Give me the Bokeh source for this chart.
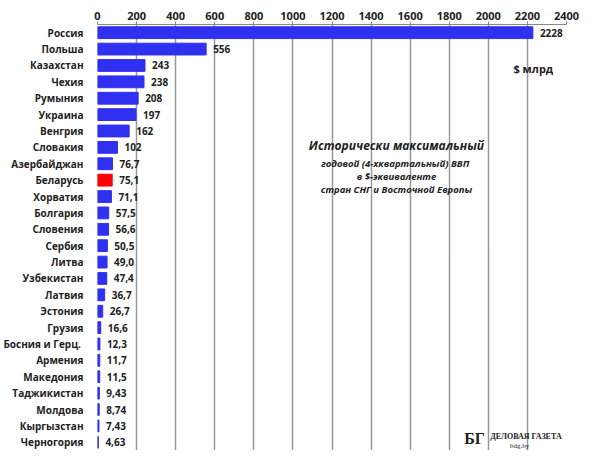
from bokeh.plotting import figure
from bokeh.models import ColumnDataSource, Label, FactorRange, FixedTicker
from bokeh.embed import file_html
from bokeh.resources import INLINE
from bokeh.core.properties import value

countries = ["Россия","Польша","Казахстан","Чехия","Румыния","Украина","Венгрия","Словакия",
             "Азербайджан","Беларусь","Хорватия","Болгария","Словения","Сербия","Литва","Узбекистан",
             "Латвия","Эстония","Грузия","Босния  и Герц.","Армения","Македония","Таджикистан",
             "Молдова","Кыргызстан","Черногория"]
values = [2228,556,243,238,208,197,162,102,76.7,75.1,71.1,57.5,56.6,50.5,49.0,47.4,36.7,26.7,
          16.6,12.3,11.7,11.5,9.43,8.74,7.43,4.63]
labels = ["2228","556","243","238","208","197","162","102","76,7","75,1","71,1","57,5","56,6",
          "50,5","49,0","47,4","36,7","26,7","16,6","12,3","11,7","11,5","9,43","8,74","7,43","4,63"]
ticks = list(range(0, 2401, 200))

colors = ["#ff0000" if c == "Беларусь" else "#3030f0" for c in countries]
src = ColumnDataSource(dict(c=countries, v=values, l=labels, col=colors))

p = figure(width=584, height=450, output_backend="svg", toolbar_location=None,
           y_range=FactorRange(factors=countries[::-1], range_padding=0.0),
           x_range=(0, 2400), x_axis_location="above",
           min_border_left=89, min_border_right=18, min_border_top=24, min_border_bottom=0)
p.hbar(y="c", right="v", height=0.72, left=0, color="col", source=src)
p.text(x="v", y="c", text="l", source=src, x_offset=7, text_baseline="middle",
       text_font=value("Open Sans"), text_font_size="10px", text_font_style="bold", text_color="#222")

p.xaxis.ticker = FixedTicker(ticks=ticks)
p.xaxis.major_label_text_font = "Open Sans"
p.xaxis.major_label_text_font_size = "11px"
p.xaxis.major_label_text_font_style = "bold"
p.xaxis.major_label_text_color = "#222"
p.xaxis.axis_line_color = "#888"
p.xaxis.major_tick_line_color = "#888"
p.xaxis.major_tick_out = 3
p.xaxis.major_tick_in = 0
p.xaxis.major_label_standoff = 2
p.xaxis.minor_tick_line_color = None
p.yaxis.major_label_text_font = "Open Sans"
p.yaxis.major_label_text_font_size = "10px"
p.yaxis.major_label_text_font_style = "bold"
p.yaxis.major_label_text_color = "#222"
p.yaxis.major_label_standoff = 8
p.yaxis.axis_line_color = None
p.yaxis.major_tick_line_color = None
p.xgrid.grid_line_color = "#999"
p.xgrid.grid_line_width = 1.5
p.ygrid.grid_line_color = None
p.outline_line_color = None
p.border_fill_color = "white"

def lab(txt, x, y, size, style, align="center", font="Open Sans"):
    p.add_layout(Label(x=x, y=y, text=txt, text_font=font, text_font_size=size,
                       text_font_style=style, text_align=align, text_baseline="middle",
                       text_color="#222"))

lab("$ млрд", 2230, 23.3, "11px", "bold")
lab("Исторически максимальный", 1530, 18.6, "12px", "bold italic")
lab("годовой (4-хквартальный)  ВВП", 1530, 17.5, "9.5px", "bold italic")
lab("в $-эквиваленте", 1530, 16.7, "9.5px", "bold italic")
lab("стран СНГ и Восточной Европы", 1530, 15.9, "9.5px", "bold italic")
lab("БГ", 1930, 0.75, "16px", "bold", font="Liberation Serif")
lab("ДЕЛОВАЯ ГАЗЕТА", 2010, 0.85, "8px", "bold", align="left", font="Liberation Serif")
lab("bdg.by", 2160, 0.25, "7px", "normal", font="Liberation Serif")

open("out.html", "w").write(file_html(p, INLINE))
